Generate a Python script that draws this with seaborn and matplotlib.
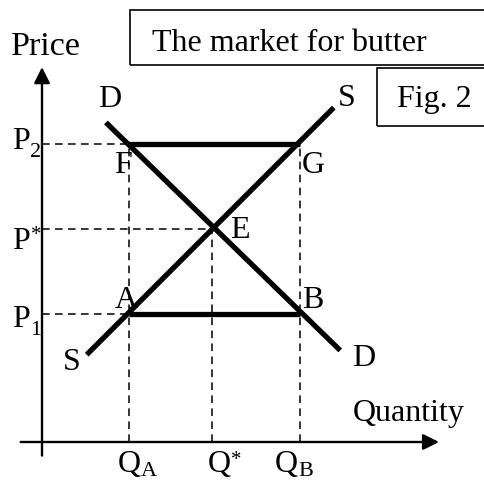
import matplotlib
matplotlib.use("Agg")
import matplotlib.pyplot as plt
import seaborn as sns
import pandas as pd
from matplotlib.patches import Rectangle

# ---------------- data (economic units) ----------------
demand_q = [1.5, 7.0]
demand_p = [7.5, 2.15]
supply_q = [1.05, 6.85]
supply_p = [2.05, 7.85]
price_marks = ["1", "*", "2"]          # P1, P*, P2
prices = [3.0, 5.0, 7.0]
qty_marks = ["A", "*", "B"]            # QA, Q*, QB
quantities = [2.05, 4.0, 6.05]
title_text = "The market for butter"
fig_text = "Fig. 2"

P1, PS, P2 = prices
QA, QS, QB = quantities

sns.set_style("white")
plt.rcParams['font.family'] = ['Liberation Serif', 'DejaVu Serif']

W, H, DPI = 485, 482, 100
U = 42.6          # px per unit
OX, OY = 42, 442  # origin pixel

fig = plt.figure(figsize=(W / DPI, H / DPI), dpi=DPI)
ax = fig.add_axes([0, 0, 1, 1])
ax.set_xlim(-OX / U, (W - OX) / U)
ax.set_ylim(-(H - OY) / U, OY / U)
ax.axis("off")


def px(x, y):
    return ((x - OX) / U, (OY - y) / U)


# axes arrows
ax.annotate("", xy=(9.32, 0), xytext=(-0.5, 0),
            arrowprops=dict(arrowstyle="-|>", lw=1.7, color="black",
                            mutation_scale=24, shrinkA=0, shrinkB=0))
ax.annotate("", xy=(0, 8.8), xytext=(0, -0.32),
            arrowprops=dict(arrowstyle="-|>", lw=1.7, color="black",
                            mutation_scale=24, shrinkA=0, shrinkB=0))

# dashed guide lines
dash_kw = dict(color="black", lw=1.1, dashes=(5, 3.5))
ax.plot([0, QA], [P2, P2], **dash_kw)
ax.plot([0, QS], [PS, PS], **dash_kw)
ax.plot([0, QA], [P1, P1], **dash_kw)
ax.plot([QA, QA], [0, P2], **dash_kw)
ax.plot([QS, QS], [0, PS], **dash_kw)
ax.plot([QB, QB], [0, P2], **dash_kw)

# main curves
thick = 3.8
for xs, ys in [(demand_q, demand_p), (supply_q, supply_p),
               ([QA, QB], [P2, P2]), ([QA, QB], [P1, P1])]:
    sns.lineplot(x=xs, y=ys, ax=ax, color="black", lw=thick,
                 solid_capstyle="butt", estimator=None, sort=False)

BIG = 23
SUB = 16


def label(x, y, s, size=BIG, va="baseline"):
    ax.text(*px(x, y), s, fontsize=size, ha="left", va=va, color="black")


label(11, 55, "Price", 24.5)
label(353, 421, "Quantity")
label(98, 107, "D")
label(338, 106, "S")
label(114, 173, "F")
label(302, 173, "G")
label(230, 238, "E")
label(115, 308, "A")
label(302, 308, "B")
label(63, 370, "S")
label(352, 366, "D")

# price labels: "P" baseline offset below dashed line
price_base_off = [13, 20, 5]
for mark, p, off in zip(price_marks, prices, price_base_off):
    py = OY - p * U
    label(12, py + off, "P")
    if mark == "*":
        label(31, py - 3, mark, 15, va="top")
    else:
        label(30, py + off + 8, mark, SUB)

# quantity labels: horizontal offset of "Q" relative to its dashed line
qty_off = [-12, -4.5, -24.5]
for mark, q, off in zip(qty_marks, quantities, qty_off):
    qx = OX + q * U + off
    label(qx, 472, "Q")
    if mark == "*":
        label(qx + 23.5, 451, mark, 15, va="top")
    else:
        label(qx + 23, 476, mark, SUB)

# boxes
x0, y0 = px(130, 65)
x1, y1 = px(492, 10)
ax.add_patch(Rectangle((x0, y0), x1 - x0, y1 - y0, fill=False,
                       lw=1.2, ec="black", clip_on=False))
label(152, 51, title_text)
x0, y0 = px(377, 126)
x1, y1 = px(492, 68)
ax.add_patch(Rectangle((x0, y0), x1 - x0, y1 - y0, fill=False,
                       lw=1.2, ec="black", clip_on=False))
label(397, 107, fig_text)

fig.savefig("out.png", dpi=DPI)
